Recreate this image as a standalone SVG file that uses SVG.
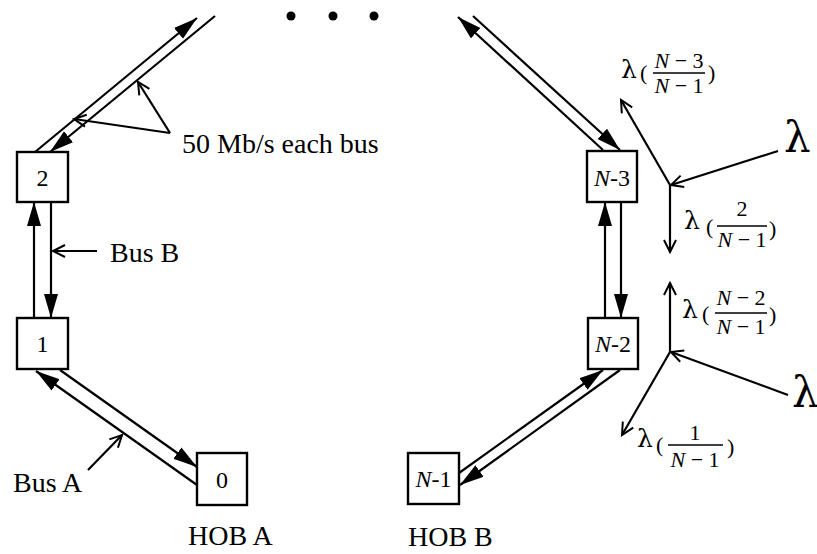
<svg xmlns="http://www.w3.org/2000/svg" width="817" height="554" viewBox="0 0 817 554">
<defs>
<marker id="arr" markerUnits="userSpaceOnUse" markerWidth="26" markerHeight="16" refX="24" refY="7" orient="auto"><path d="M0,0 L24,7 L0,14 Z" fill="#000"/></marker>
<marker id="open" markerUnits="userSpaceOnUse" markerWidth="16" markerHeight="16" refX="13" refY="7" orient="auto"><path d="M1,1 L13,7 L1,13" fill="none" stroke="#000" stroke-width="2"/></marker>
</defs>
<style>
.box{fill:#fff;stroke:#000;stroke-width:2.4}
.ln{stroke:#000;stroke-width:2.2;fill:none}
.a{marker-end:url(#arr)}
.o{marker-end:url(#open)}
text{font-family:"Liberation Serif","Times New Roman",serif;fill:#000}
.lbl{font-size:28px}
.num{font-size:24px;text-anchor:middle}
.it{font-style:italic}
.fr{font-size:22px;text-anchor:middle}
.lam{font-size:25px;font-family:"DejaVu Serif","Liberation Serif",serif}
.par{font-size:22px}
.big{font-size:42px;font-family:"DejaVu Serif","Liberation Serif",serif}
</style>
<rect x="0" y="0" width="817" height="554" fill="#fff"/>
<g id="connectors">
<line class="ln a" x1="35" y1="152" x2="197" y2="18"/>
<line class="ln a" x1="215" y1="16" x2="50" y2="152"/>
<line class="ln a" x1="34" y1="318" x2="34" y2="202"/>
<line class="ln a" x1="51" y1="202" x2="51" y2="318"/>
<line class="ln a" x1="197" y1="485" x2="36" y2="371"/>
<line class="ln a" x1="60" y1="370" x2="197" y2="467"/>
<line class="ln a" x1="603" y1="150" x2="458" y2="17"/>
<line class="ln a" x1="473" y1="16" x2="620" y2="150"/>
<line class="ln a" x1="605" y1="318" x2="605" y2="202"/>
<line class="ln a" x1="621" y1="202" x2="621" y2="318"/>
<line class="ln a" x1="459" y1="473" x2="603" y2="370"/>
<line class="ln a" x1="620" y1="370" x2="460" y2="485"/>
<line class="ln o" x1="170" y1="133" x2="138" y2="82"/>
<line class="ln o" x1="170" y1="133" x2="74" y2="119"/>
<line class="ln o" x1="97" y1="251" x2="53" y2="251"/>
<line class="ln o" x1="88" y1="470" x2="122" y2="435"/>
<line class="ln o" x1="778" y1="151" x2="671" y2="185"/>
<line class="ln o" x1="670" y1="185" x2="621" y2="100"/>
<line class="ln o" x1="670" y1="185" x2="670" y2="252"/>
<line class="ln o" x1="670" y1="352" x2="670" y2="283"/>
<line class="ln o" x1="788" y1="395" x2="671" y2="352"/>
<line class="ln o" x1="670" y1="352" x2="622" y2="435"/>
</g>
<g id="dots">
<circle cx="291" cy="16" r="4.5"/>
<circle cx="333" cy="16" r="4.5"/>
<circle cx="374" cy="16" r="4.5"/>
</g>
<g id="node-2"><rect class="box" x="17" y="152" width="51" height="50"/><text class="num" x="42.5" y="186">2</text></g>
<g id="node-1"><rect class="box" x="17" y="318" width="51" height="51"/><text class="num" x="42.5" y="352">1</text></g>
<g id="node-0"><rect class="box" x="197" y="453" width="50" height="52"/><text class="num" x="222" y="488">0</text></g>
<g id="node-N-3"><rect class="box" x="587" y="151" width="50" height="51"/><text class="num" x="612" y="186"><tspan class="it">N</tspan>-3</text></g>
<g id="node-N-2"><rect class="box" x="588" y="318" width="50" height="51"/><text class="num" x="613" y="352"><tspan class="it">N</tspan>-2</text></g>
<g id="node-N-1"><rect class="box" x="408" y="453" width="51" height="51"/><text class="num" x="433.5" y="487"><tspan class="it">N</tspan>-1</text></g>
<g id="labels">
<text class="lbl" x="182" y="153">50 Mb/s each bus</text>
<text class="lbl" x="110" y="262">Bus B</text>
<text class="lbl" x="13" y="492">Bus A</text>
<text class="lbl" x="188" y="545">HOB A</text>
<text class="lbl" x="408" y="546">HOB B</text>
<text class="big" x="784" y="152">λ</text>
<text class="big" x="792" y="407">λ</text>
</g>
<g id="rate-N-3">
<text class="lam" x="621" y="78">λ</text>
<text class="par" x="640" y="80">(</text>
<text class="fr" x="679" y="68"><tspan class="it">N</tspan> − 3</text>
<line x1="653" y1="73" x2="705" y2="73" stroke="#000" stroke-width="1.3"/>
<text class="fr" x="679" y="93"><tspan class="it">N</tspan> − 1</text>
<text class="par" x="708" y="80">)</text>
</g>
<g id="rate-2">
<text class="lam" x="684" y="229">λ</text>
<text class="par" x="706" y="234">(</text>
<text class="fr" x="742" y="216">2</text>
<line x1="717" y1="226" x2="767" y2="226" stroke="#000" stroke-width="1.3"/>
<text class="fr" x="742" y="247"><tspan class="it">N</tspan> − 1</text>
<text class="par" x="769" y="236">)</text>
</g>
<g id="rate-N-2">
<text class="lam" x="682" y="318">λ</text>
<text class="par" x="702" y="321">(</text>
<text class="fr" x="741" y="305"><tspan class="it">N</tspan> − 2</text>
<line x1="715" y1="313" x2="767" y2="313" stroke="#000" stroke-width="1.3"/>
<text class="fr" x="741" y="334"><tspan class="it">N</tspan> − 1</text>
<text class="par" x="769" y="322">)</text>
</g>
<g id="rate-1">
<text class="lam" x="637" y="447">λ</text>
<text class="par" x="656" y="452">(</text>
<text class="fr" x="695" y="440">1</text>
<line x1="668" y1="445" x2="723" y2="445" stroke="#000" stroke-width="1.3"/>
<text class="fr" x="695" y="467"><tspan class="it">N</tspan> − 1</text>
<text class="par" x="727" y="454">)</text>
</g>
</svg>
